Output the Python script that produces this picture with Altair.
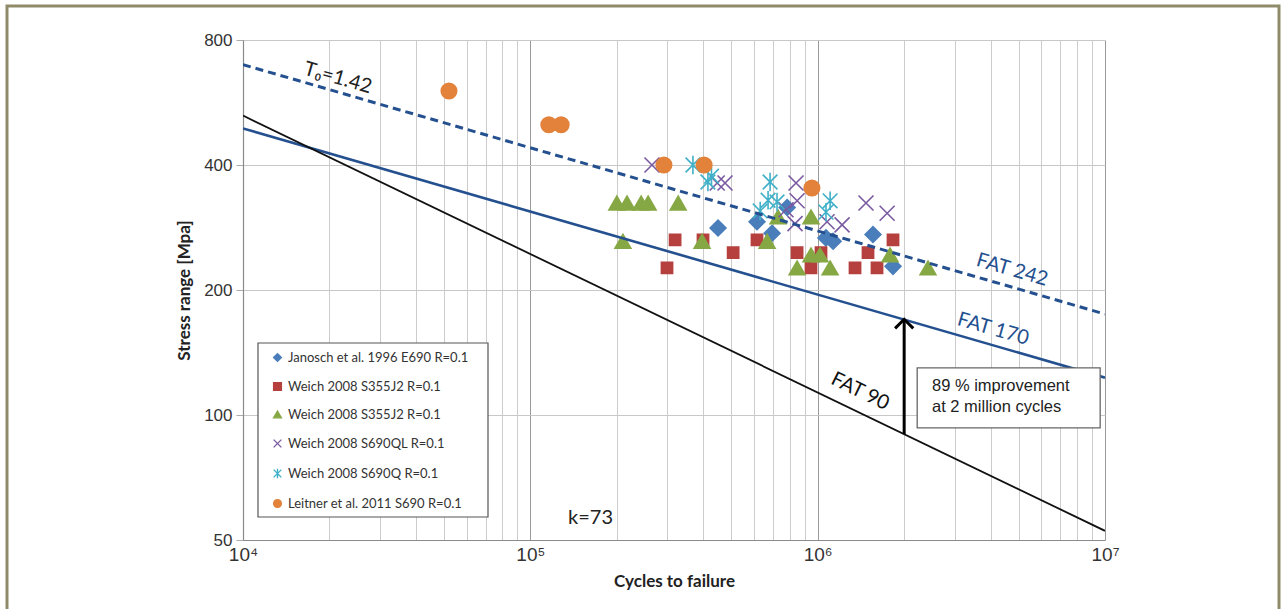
import altair as alt
import pandas as pd

# ---------------- data ----------------
series_names = [
    "Janosch et al. 1996 E690 R=0.1",
    "Weich 2008 S355J2 R=0.1",
    "Weich 2008  S355J2 R=0.1",
    "Weich 2008 S690QL R=0.1",
    "Weich 2008 S690Q R=0.1",
    "Leitner et al. 2011 S690 R=0.1",
]

janosch_x = [450000, 615000, 694000, 783000, 1069000, 1132000, 1558000, 1829000]
janosch_y = [282, 292, 274, 316, 267, 262, 272, 228]

weich_sq_x = [299000, 319000, 399000, 508000, 615000, 848000, 948000, 1027000, 1349000, 1497000, 1609000, 1829000]
weich_sq_y = [226, 264, 264, 246, 264, 246, 226, 246, 226, 246, 226, 264]

weich_tri_x = [200000, 217000, 243000, 257000, 327000, 210000, 396000, 667000, 728000, 848000, 948000, 948000, 1019000, 1105000, 1786000, 2421000]
weich_tri_y = [324, 324, 324, 324, 324, 262, 262, 262, 300, 226, 300, 243, 243, 226, 243, 226]

weich_ql_x = [265000, 447000, 476000, 841000, 848000, 776000, 834000, 1078000, 1216000, 1473000, 1745000]
weich_ql_y = [400, 362, 362, 362, 328, 312, 289, 292, 287, 324, 306]

weich_q_x = [368000, 415000, 427000, 683000, 672000, 722000, 631000, 1105000, 1069000]
weich_q_y = [400, 364, 376, 364, 329, 326, 310, 328, 308]

leitner_x = [52100, 116000, 128000, 291700, 402500, 955000]
leitner_y = [603, 500, 500, 400, 400, 352]

# S-N design lines (end points read at 1e4 and 1e7)
line_cycles = [10000, 10000000]
fat242_stress = [698, 175]
fat170_stress = [490, 123]
fat90_stress = [526, 52.6]

# arrow at 2 million cycles, from FAT 90 to FAT 170
arrow_x = [2000000]
arrow_lo = [90]
arrow_hi = [170]

series_colors = ["#4a7ebb", "#b5403e", "#86a844", "#7a5aa0", "#3fb0c8", "#e3823a"]
series_fills = ["#4a7ebb", "#b5403e", "#86a844", "transparent", "transparent", "#e3823a"]
series_shapes = [
    "diamond",
    "square",
    "triangle-up",
    "M-1,-1L1,1M-1,1L1,-1",
    "M-1,-1L1,1M-1,1L1,-1M0,-1.25L0,1.25",
    "circle",
]
series_sizes = [250, 125, 250, 225, 215, 240]

xs = [janosch_x, weich_sq_x, weich_tri_x, weich_ql_x, weich_q_x, leitner_x]
ys = [janosch_y, weich_sq_y, weich_tri_y, weich_ql_y, weich_q_y, leitner_y]
rows = []
for name, sx, sy, sz in zip(series_names, xs, ys, series_sizes):
    for a, b in zip(sx, sy):
        rows.append({"series": name, "cycles": a, "stress": b, "sz": sz})
pts = pd.DataFrame(rows)

x_grid = [k * 10 ** e for e in range(4, 7) for k in range(1, 10)] + [10000000]

W, H = 862, 500

xscale = alt.Scale(type="log", domain=[10000, 10000000], nice=False)
yscale = alt.Scale(type="log", domain=[50, 800], nice=False)

label_expr = ("datum.value == 10000 ? '10\u2074' : datum.value == 100000 ? '10\u2075' : "
              "datum.value == 1000000 ? '10\u2076' : datum.value == 10000000 ? '10\u2077' : ''")

x_axis = alt.Axis(
    values=x_grid, labelExpr=label_expr, title="Cycles to failure",
    labelOverlap=False, labelFlush=False, ticks=False, labelPadding=5,
    labelFont="Liberation Sans", labelFontSize=19, labelColor="#333333",
    titleFont="Lato", titleFontSize=17, titleFontWeight="bold", titleColor="#222222",
    titlePadding=9,
    gridColor={"condition": {"test": "datum.value == 100000 || datum.value == 1000000 || datum.value == 10000000",
                             "value": "#9a9a9a"}, "value": "#cccccc"},
)
y_axis = alt.Axis(
    values=[50, 100, 200, 400, 800], format="d", title="Stress range [Mpa]",
    labelFont="Liberation Sans", labelFontSize=17, labelColor="#333333", labelPadding=4,
    tickSize=7, tickColor="#aaaaaa",
    titleFont="Lato", titleFontSize=17, titleFontWeight="bold", titleColor="#222222",
    titlePadding=10, gridColor="#c8c8c8",
)

leg = alt.Legend(
    title=None, orient="none", legendX=28, legendY=311, padding=0, zindex=5,
    labelFont="Lato", labelFontSize=13, labelColor="#333333", labelLimit=260,
    rowPadding=14, labelOffset=4, symbolSize=60, symbolStrokeWidth=1.4,
)

dummy = pd.DataFrame({"a": [0]})
legend_box = alt.Chart(dummy).mark_rect(fill="white", stroke="#555555", strokeWidth=1.2).encode(
    x=alt.value(15), x2=alt.value(245), y=alt.value(303), y2=alt.value(477))
frame = alt.Chart(dummy).mark_rect(fill=None, stroke="#8f8b6a", strokeWidth=3).encode(
    x=alt.value(-236), x2=alt.value(1036), y=alt.value(-34), y2=alt.value(640))

points = alt.Chart(pts).mark_point(opacity=1, strokeWidth=1.6).encode(
    x=alt.X("cycles:Q", scale=xscale, axis=x_axis),
    y=alt.Y("stress:Q", scale=yscale, axis=y_axis),
    fill=alt.Fill("series:N", scale=alt.Scale(domain=series_names, range=series_fills), legend=leg),
    stroke=alt.Stroke("series:N", scale=alt.Scale(domain=series_names, range=series_colors), legend=leg),
    shape=alt.Shape("series:N", scale=alt.Scale(domain=series_names, range=series_shapes), legend=leg),
    size=alt.Size("sz:Q", scale=None),
)

lines_df = pd.DataFrame({
    "cycles": line_cycles * 3,
    "stress": fat242_stress + fat170_stress + fat90_stress,
    "line": ["FAT 242"] * 2 + ["FAT 170"] * 2 + ["FAT 90"] * 2,
})

def fat_line(name, color, width, dash=None):
    kw = dict(color=color, strokeWidth=width, clip=True)
    if dash:
        kw["strokeDash"] = dash
    return alt.Chart(lines_df[lines_df.line == name]).mark_line(**kw).encode(
        x=alt.X("cycles:Q", scale=xscale), y=alt.Y("stress:Q", scale=yscale))

l242 = fat_line("FAT 242", "#24508f", 3, [8, 5])
l170 = fat_line("FAT 170", "#24508f", 2.6)
l90 = fat_line("FAT 90", "#111111", 1.8)

arrow_df = pd.DataFrame({"cycles": arrow_x, "lo": arrow_lo, "hi": arrow_hi})
arrow_rule = alt.Chart(arrow_df).mark_rule(color="black", strokeWidth=3).encode(
    x=alt.X("cycles:Q", scale=xscale), y=alt.Y("lo:Q", scale=yscale), y2="hi:Q")
arrow_head = alt.Chart(arrow_df).mark_point(
    shape="M-1,1L0,0L1,1", size=330, stroke="black", strokeWidth=3, filled=False, opacity=1
).encode(x=alt.X("cycles:Q", scale=xscale), y=alt.Y("hi:Q", scale=yscale))

# annotation box
box_df = pd.DataFrame({"x1": [2220000], "x2": [9620000], "y1": [129.8], "y2": [93.1]})
box = alt.Chart(box_df).mark_rect(fill="white", stroke="#666666", strokeWidth=1.3).encode(
    x=alt.X("x1:Q", scale=xscale), x2="x2:Q", y=alt.Y("y1:Q", scale=yscale), y2="y2:Q")

box_text_df = pd.DataFrame({"cycles": [2500000, 2500000], "stress": [117.4, 104.5],
                            "txt": ["89 % improvement", "at 2 million cycles"]})
box_text = alt.Chart(box_text_df).mark_text(
    align="left", baseline="middle", font="Liberation Sans", fontSize=16.5, color="#222222"
).encode(x=alt.X("cycles:Q", scale=xscale), y=alt.Y("stress:Q", scale=yscale), text="txt:N")

# rotated labels
lab_df = pd.DataFrame({
    "cycles": [4750000, 4080000, 1405000, 21400, 162000],
    "stress": [223.5, 161, 114, 648, 56.5],
    "txt": ["FAT 242", "FAT 170", "FAT 90", "T\u2080=1.42", "k=73"],
    "angle": [16, 16, 26, 16, 0],
    "color": ["#24508f", "#24508f", "#111111", "#222222", "#222222"],
})
labels = alt.Chart(lab_df).mark_text(
    align="center", baseline="middle", font="Lato", fontSize=20
).encode(
    x=alt.X("cycles:Q", scale=xscale), y=alt.Y("stress:Q", scale=yscale),
    text="txt:N", angle=alt.Angle("angle:Q", scale=None), color=alt.Color("color:N", scale=None),
)

chart = alt.layer(
    legend_box, frame, points, l242, l170, l90, arrow_rule, arrow_head, box, box_text, labels
).properties(
    width=W, height=H,
    autosize=alt.AutoSizeParams(type="none"),
    padding={"left": 243, "top": 40, "right": 182, "bottom": 69},
    background="white",
).configure_view(stroke=None).configure_axis(
    domainColor="#8a8a8a", domainWidth=1.2,
)

chart.save("out.html", embed_options={"renderer": "svg", "actions": False})
